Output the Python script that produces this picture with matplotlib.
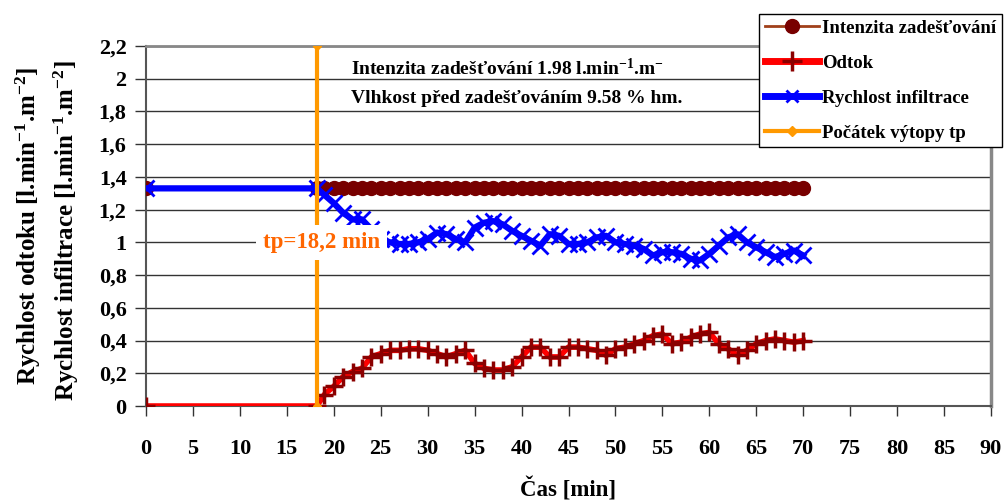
import matplotlib

matplotlib.use("Agg")
import matplotlib.pyplot as plt
from matplotlib.lines import Line2D
import numpy as np

plt.rcParams["font.family"] = ["Liberation Serif", "DejaVu Serif"]
plt.rcParams["font.weight"] = "bold"
plt.rcParams["mathtext.fontset"] = "custom"
plt.rcParams["mathtext.rm"] = "Liberation Serif:bold"
plt.rcParams["mathtext.bf"] = "Liberation Serif:bold"
plt.rcParams["mathtext.default"] = "bf"

# data
t_meas = list(range(19, 71))
t_all = [0, 18.2] + t_meas

intenzita = [1.33] * len(t_all)

odtok = [0.0, 0.0,
         0.07, 0.12, 0.18, 0.21, 0.23, 0.30, 0.32, 0.34, 0.34, 0.35,
         0.35, 0.34, 0.32, 0.30, 0.32, 0.34, 0.26, 0.23, 0.22, 0.22,
         0.24, 0.30, 0.36, 0.36, 0.30, 0.30, 0.36, 0.36, 0.35, 0.34,
         0.31, 0.35, 0.36, 0.38, 0.40, 0.43, 0.44, 0.38, 0.39, 0.42,
         0.44, 0.45, 0.38, 0.35, 0.31, 0.34, 0.38, 0.40, 0.41, 0.40,
         0.39, 0.40]

infiltrace = [1.33, 1.33,
              1.29, 1.24, 1.18, 1.14, 1.14, 1.08, 1.02, 1.00, 0.99, 0.99,
              1.00, 1.02, 1.06, 1.05, 1.02, 1.00, 1.09, 1.12, 1.13, 1.11,
              1.07, 1.04, 1.01, 0.98, 1.05, 1.04, 0.99, 0.99, 1.00, 1.03,
              1.04, 1.00, 0.99, 0.98, 0.96, 0.92, 0.94, 0.94, 0.93, 0.90,
              0.89, 0.93, 0.98, 1.03, 1.05, 1.00, 0.97, 0.94, 0.91, 0.93,
              0.95, 0.92]

tp = 18.2
tp_y = [0, 2.2]

x_ticks = list(range(0, 95, 5))
y_ticks = [0, 0.2, 0.4, 0.6, 0.8, 1.0, 1.2, 1.4, 1.6, 1.8, 2.0, 2.2]
y_tick_labels = ["0", "0,2", "0,4", "0,6", "0,8", "1", "1,2", "1,4", "1,6", "1,8", "2", "2,2"]

MAROON = "#780000"
BROWN = "#A0401A"
RED = "#FF0000"
DARKRED = "#8B0000"
BLUE = "#0000FF"
ORANGE = "#FF9900"
TP_TEXT = "#FF6600"
GRID = "#333333"

fig = plt.figure(figsize=(10.06, 5.04), dpi=100)
ax = fig.add_axes([146 / 1006, 1 - 406 / 504, (991 - 146) / 1006, (406 - 46) / 504])

ax.plot(t_all, intenzita, color=BROWN, lw=1.5, marker="o", ms=10,
        mfc=MAROON, mec=MAROON, zorder=3)
ax.plot(t_all, odtok, color=RED, lw=4, marker="+", ms=13, mew=2.5,
        mec=DARKRED, zorder=4)
ax.plot(t_all, infiltrace, color=BLUE, lw=4.5, marker="x", ms=12, mew=2,
        mec=BLUE, zorder=5)
ax.plot([tp, tp], tp_y, color=ORANGE, lw=3, marker="D", ms=4,
        mfc=ORANGE, mec=ORANGE, zorder=6)

ax.set_xlim(0, 90)
ax.set_ylim(0, 2.2)
ax.set_xticks(x_ticks)
ax.set_yticks(y_ticks)
ax.set_yticklabels(y_tick_labels)
ax.yaxis.grid(True, color=GRID, lw=1)
ax.set_axisbelow(True)
ax.tick_params(axis="x", direction="out", length=7, width=1, color=GRID,
               pad=17, labelsize=16)
ax.tick_params(axis="y", direction="out", length=8, width=1, color=GRID,
               pad=6, labelsize=16)
for side, sp in ax.spines.items():
    sp.set_color("#555555")
    sp.set_linewidth(1.5)
ax.spines["right"].set_color("#888888")
ax.spines["right"].set_linewidth(2.5)
ax.spines["top"].set_color("#888888")
ax.spines["top"].set_linewidth(2)

ax.text(tp + 0.5, 1.0, "tp=18,2 min", color=TP_TEXT, fontsize=16.5, fontweight="bold",
        ha="center", va="center", zorder=10,
        bbox=dict(facecolor="white", edgecolor="none", pad=5))

ax.text(21.8, 2.065, r"Intenzita zadešťování 1.98 l.min$^{-1}$.m$^{-}$",
        fontsize=14, fontweight="bold", ha="left", va="center", zorder=10)
ax.text(21.8, 1.88, "Vlhkost před zadešťováním 9.58 % hm.",
        fontsize=14, fontweight="bold", ha="left", va="center", zorder=10)

fig.text(28 / 1006, 1 - 226 / 504, r"Rychlost odtoku [l.min$^{-1}$.m$^{-2}$]",
         rotation=90, fontsize=18, fontweight="bold", ha="center", va="center")
fig.text(66 / 1006, 1 - 231 / 504, r"Rychlost infiltrace [l.min$^{-1}$.m$^{-2}$]",
         rotation=90, fontsize=18, fontweight="bold", ha="center", va="center")
fig.text(568 / 1006, 1 - 490 / 504, "Čas [min]", fontsize=16.5, fontweight="bold",
         ha="center", va="center")

handles = [
    Line2D([], [], color=BROWN, lw=2, marker="o", ms=10, mfc=MAROON, mec=MAROON),
    Line2D([], [], color=RED, lw=5, marker="+", ms=14, mew=2.5, mec=DARKRED),
    Line2D([], [], color=BLUE, lw=5, marker="x", ms=8, mew=2, mec=BLUE),
    Line2D([], [], color=ORANGE, lw=3, marker="D", ms=5, mfc=ORANGE, mec=ORANGE),
]
labels = ["Intenzita zadešťování", "Odtok", "Rychlost infiltrace", "Počátek výtopy tp"]
leg = fig.legend(handles, labels, loc="upper left",
                 bbox_to_anchor=(759 / 1006, 1 - 14 / 504),
                 fontsize=13.5, frameon=True, fancybox=False, framealpha=1,
                 edgecolor="black", handlelength=2.9, handletextpad=0.15,
                 labelspacing=0.95, borderpad=0.3, borderaxespad=0)
leg.get_frame().set_linewidth(1)
for txt in leg.get_texts():
    txt.set_fontweight("bold")

fig.savefig("out.png", dpi=100)
